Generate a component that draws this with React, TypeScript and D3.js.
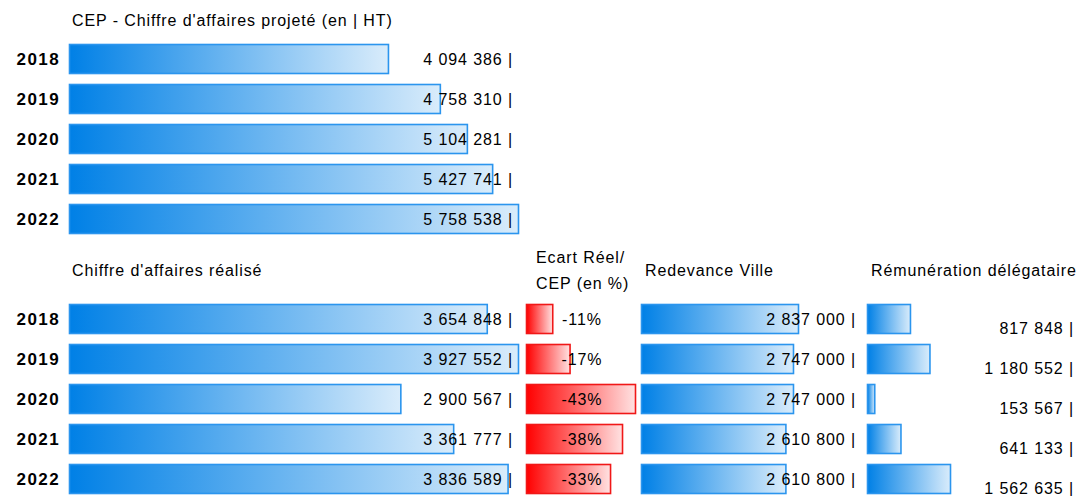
import React from "react";
import * as d3 from "d3";

const years = ["2018", "2019", "2020", "2021", "2022"];
const cepValues = [4094386, 4758310, 5104281, 5427741, 5758538];
const realiseValues = [3654848, 3927552, 2900567, 3361777, 3836589];
const ecartValues = [-10.7, -17.5, -43.2, -38.1, -33.4];
const redevanceValues = [2837000, 2747000, 2747000, 2610800, 2610800];
const remunerationValues = [817848, 1180552, 153567, 641133, 1562635];

const titleTop = "CEP - Chiffre d'affaires projeté (en | HT)";
const titleRealise = "Chiffre d'affaires réalisé";
const titleEcart = ["Ecart Réel/", "CEP (en %)"];
const titleRedevance = "Redevance Ville";
const titleRemuneration = "Rémunération délégataire";

const W = 1086;
const H = 496;
const FONT = "'Liberation Sans', Arial, sans-serif";
const LS = 0.9;

const locale = d3.formatLocale({ decimal: ",", thousands: " ", grouping: [3], currency: ["", " €"] });
const fmt = locale.format(",d");
const money = (v: number) => `${fmt(v)} |`;

function Bar({ x0, x1, y, h, grad, stroke }: any) {
  return (
    <rect
      x={x0 + 0.5}
      y={y + 0.5}
      width={Math.max(1, x1 - x0 - 1)}
      height={h - 1}
      fill={`url(#${grad})`}
      stroke={stroke}
      strokeWidth={1.6}
    />
  );
}

export default function App() {
  const yTop = d3.scaleBand().domain(years).range([39, 239]).paddingInner(0.25).paddingOuter(0.125);
  const yBot = d3.scaleBand().domain(years).range([299, 499]).paddingInner(0.25).paddingOuter(0.125);

  const xTop = d3.scaleLinear().domain([0, d3.max(cepValues)!]).range([69, 519]);
  const xReal = d3.scaleLinear().domain([0, d3.max(realiseValues)!]).range([69, 519]);
  const xEcart = d3.scaleLinear().domain([0, d3.max(ecartValues, (d) => Math.abs(d))!]).range([526, 636]);
  const xRed = d3.scaleLinear().domain([0, d3.max(redevanceValues)!]).range([641, 799]);
  const xRem = d3.scaleLinear().domain([0, d3.max(remunerationValues)!]).range([867, 951]);

  const bw = yTop.bandwidth();
  const blueStroke = "#2b95ee";
  const redStroke = "#f01818";

  const yearLabel = (y: number, t: string) => (
    <text x={60} y={y + bw / 2} dy="0.36em" textAnchor="end" fontWeight="bold" fontSize={17} letterSpacing={1.4}>
      {t}
    </text>
  );

  const T = (props: any) => <text fontSize={16} letterSpacing={LS} dy="0.36em" {...props} />;

  return (
    <svg
      width={W}
      height={H}
      style={{ position: "absolute", left: 0, top: 0, background: "#fff" }}
      fontFamily={FONT}
    >
      <defs>
        <linearGradient id="gBlue" x1="0" x2="1" y1="0" y2="0">
          <stop offset="0%" stopColor="#0080e6" />
          <stop offset="100%" stopColor="#d9ecfb" />
        </linearGradient>
        <linearGradient id="gRed" x1="0" x2="1" y1="0" y2="0">
          <stop offset="0%" stopColor="#ff0000" />
          <stop offset="100%" stopColor="#ffe2e2" />
        </linearGradient>
      </defs>

      {/* Top panel */}
      <T x={72} y={20}>{titleTop}</T>
      {years.map((yr, i) => {
        const y = yTop(yr)!;
        return (
          <g key={"t" + yr}>
            {yearLabel(y, yr)}
            <Bar x0={xTop(0)} x1={xTop(cepValues[i])} y={y} h={bw} grad="gBlue" stroke={blueStroke} />
            <T x={513} y={y + bw / 2} textAnchor="end">{money(cepValues[i])}</T>
          </g>
        );
      })}

      {/* Bottom titles */}
      <T x={72} y={270}>{titleRealise}</T>
      <T x={536} y={257}>{titleEcart[0]}</T>
      <T x={536} y={283}>{titleEcart[1]}</T>
      <T x={645} y={270}>{titleRedevance}</T>
      <T x={871} y={270}>{titleRemuneration}</T>

      {years.map((yr, i) => {
        const y = yBot(yr)!;
        const cy = y + bw / 2;
        return (
          <g key={"b" + yr}>
            {yearLabel(y, yr)}
            <Bar x0={xReal(0)} x1={xReal(realiseValues[i])} y={y} h={bw} grad="gBlue" stroke={blueStroke} />
            <T x={513} y={cy} textAnchor="end">{money(realiseValues[i])}</T>

            <Bar x0={xEcart(0)} x1={xEcart(Math.abs(ecartValues[i]))} y={y} h={bw} grad="gRed" stroke={redStroke} />
            <T x={582} y={cy} textAnchor="middle">{`${Math.round(ecartValues[i])}%`}</T>

            <Bar x0={xRed(0)} x1={xRed(redevanceValues[i])} y={y} h={bw} grad="gBlue" stroke={blueStroke} />
            <T x={856} y={cy} textAnchor="end">{money(redevanceValues[i])}</T>

            <Bar x0={xRem(0)} x1={xRem(remunerationValues[i])} y={y} h={bw} grad="gBlue" stroke={blueStroke} />
            <T x={1074} y={cy + 9} textAnchor="end">{money(remunerationValues[i])}</T>
          </g>
        );
      })}
    </svg>
  );
}
